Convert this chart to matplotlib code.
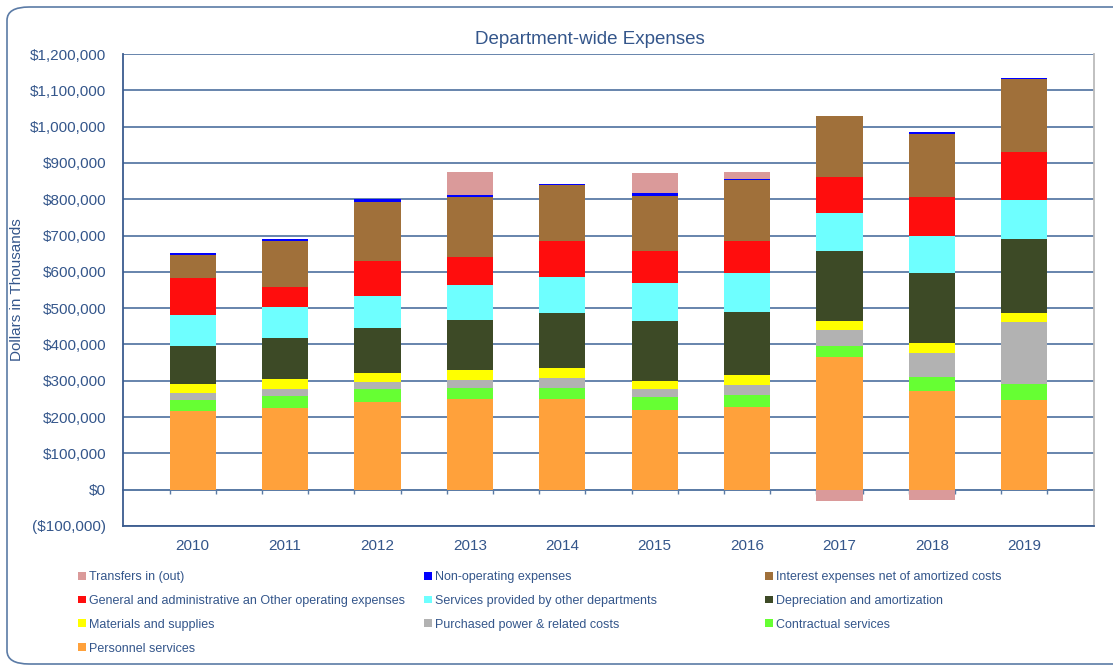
import numpy as np
import matplotlib
matplotlib.use('Agg')
import matplotlib.pyplot as plt
from matplotlib.patches import FancyBboxPatch, Patch
from matplotlib.ticker import FuncFormatter

# ---------------------------------------------------------------------------
# Data (thousands of dollars)
# ---------------------------------------------------------------------------

years = ['2010', '2011', '2012', '2013', '2014', '2015', '2016', '2017', '2018', '2019']

personnel    = [216000, 224000, 241000, 249000, 251000, 219000, 227000, 366000, 271000, 248000]
contractual  = [32000, 35000, 35000, 32000, 30000, 35000, 35000, 30000, 40000, 44000]
purchased    = [17000, 19000, 21000, 21000, 27000, 22000, 26000, 44000, 65000, 171000]
materials    = [25000, 26000, 25000, 27000, 26000, 24000, 27000, 24000, 27000, 25000]
depreciation = [106000, 115000, 122000, 138000, 153000, 164000, 174000, 193000, 195000, 202000]
services     = [85000, 85000, 90000, 98000, 98000, 105000, 107000, 105000, 102000, 108000]
general_adm  = [101000, 55000, 97000, 76000, 101000, 89000, 90000, 100000, 107000, 131000]
interest     = [65000, 126000, 161000, 164000, 153000, 152000, 166000, 166000, 174000, 202000]
non_oper     = [6000, 6000, 9000, 8000, 4000, 8000, 5000, 2000, 5000, 3000]
transfers    = [0, -2000, 0, 63000, 0, 53000, 19000, -31000, -29000, 0]

series = [
    ('Personnel services', personnel, '#FFA13B'),
    ('Contractual services', contractual, '#66FF33'),
    ('Purchased power & related costs', purchased, '#B2B2B2'),
    ('Materials and supplies', materials, '#FFFF00'),
    ('Depreciation and amortization', depreciation, '#3D4A26'),
    ('Services provided by other departments', services, '#6EFFFF'),
    ('General and administrative an Other operating expenses', general_adm, '#FF0D0D'),
    ('Interest expenses net of amortized costs', interest, '#A0703A'),
    ('Non-operating expenses', non_oper, '#0000FF'),
    ('Transfers in (out)', transfers, '#DA9A9A'),
]

# ---------------------------------------------------------------------------
# Plot
# ---------------------------------------------------------------------------

W, H = 1113, 666
TXT = '#34568B'
plt.rcParams['font.family'] = ['Liberation Sans', 'DejaVu Sans']

fig = plt.figure(figsize=(W / 100, H / 100), dpi=100)

# rounded chart frame
frame = FancyBboxPatch((7 / W, 1 - 664 / H), 1130 / W, 657 / H,
                       boxstyle='round,pad=0,rounding_size=0.02',
                       transform=fig.transFigure, fill=False,
                       edgecolor='#5B7BA6', lw=1.2, clip_on=False)
fig.patches.append(frame)

ax = fig.add_axes([123 / W, 1 - 526 / H, (1094 - 123) / W, (526 - 54) / H])

x = np.arange(len(years))
pos_base = np.zeros(len(years))
neg_base = np.zeros(len(years))
for name, vals, color in series:
    vals = np.array(vals, dtype=float)
    bottom = np.where(vals >= 0, pos_base, neg_base)
    ax.bar(x, vals, width=0.5, bottom=bottom, color=color,
           edgecolor='none', zorder=3)
    pos_base += np.clip(vals, 0, None)
    neg_base += np.clip(vals, None, 0)

ax.set_xlim(-0.754, 9.754)
ax.set_ylim(-100000, 1200000)
ax.set_yticks(np.arange(-100000, 1200001, 100000))


def money(v, _):
    if v < 0:
        return f'(${-v:,.0f})'
    return f'${v:,.0f}'


ax.yaxis.set_major_formatter(FuncFormatter(money))
ax.grid(axis='y', color='#5B7BA6', lw=1.3, zorder=1)
ax.set_xticks(x)
ax.set_xticklabels(years)
ax.tick_params(axis='x', length=0, pad=9, labelsize=11, labelcolor=TXT)
ax.tick_params(axis='y', length=0, pad=12, labelsize=11, labelcolor=TXT)

for side in ['left', 'bottom']:
    ax.spines[side].set_color('#3B5C8F')
    ax.spines[side].set_linewidth(1.3)
ax.spines['top'].set_visible(False)
ax.spines['right'].set_color('#BBBBBB')
ax.spines['right'].set_linewidth(1.3)

# small tick marks on the zero line at bar edges
zero_ax = ax.secondary_xaxis(100000 / 1300000)
zero_ax.set_xticks(np.concatenate([x - 0.25, x + 0.25]))
zero_ax.tick_params(length=3, width=1, color='#5B7BA6', labelbottom=False)
zero_ax.spines['bottom'].set_color('#5B7BA6')
zero_ax.spines['bottom'].set_linewidth(1.3)

ax.set_ylabel('Dollars in Thousands', fontsize=11, color=TXT)
ax.yaxis.set_label_coords((24 - 123) / (1094 - 123), 0.5)

fig.text(590 / W, 1 - 39 / H, 'Department-wide Expenses', ha='center', va='center',
         fontsize=13.5, color=TXT)

# legend, three columns placed like the original
colors = {name: color for name, _, color in series}
columns = [
    (78, ['Transfers in (out)',
          'General and administrative an Other operating expenses',
          'Materials and supplies',
          'Personnel services']),
    (424, ['Non-operating expenses',
           'Services provided by other departments',
           'Purchased power & related costs']),
    (765, ['Interest expenses net of amortized costs',
           'Depreciation and amortization',
           'Contractual services']),
]
for xpos, names in columns:
    handles = [Patch(facecolor=colors[n], edgecolor='none') for n in names]
    fig.legend(handles, names, loc='upper left',
               bbox_to_anchor=(xpos / W, 1 - 571 / H), frameon=False,
               fontsize=9, labelcolor=TXT, handlelength=0.6, handleheight=0.6,
               handletextpad=0.3, labelspacing=0.95, borderpad=0,
               borderaxespad=0)

fig.savefig('out.png', dpi=100)
